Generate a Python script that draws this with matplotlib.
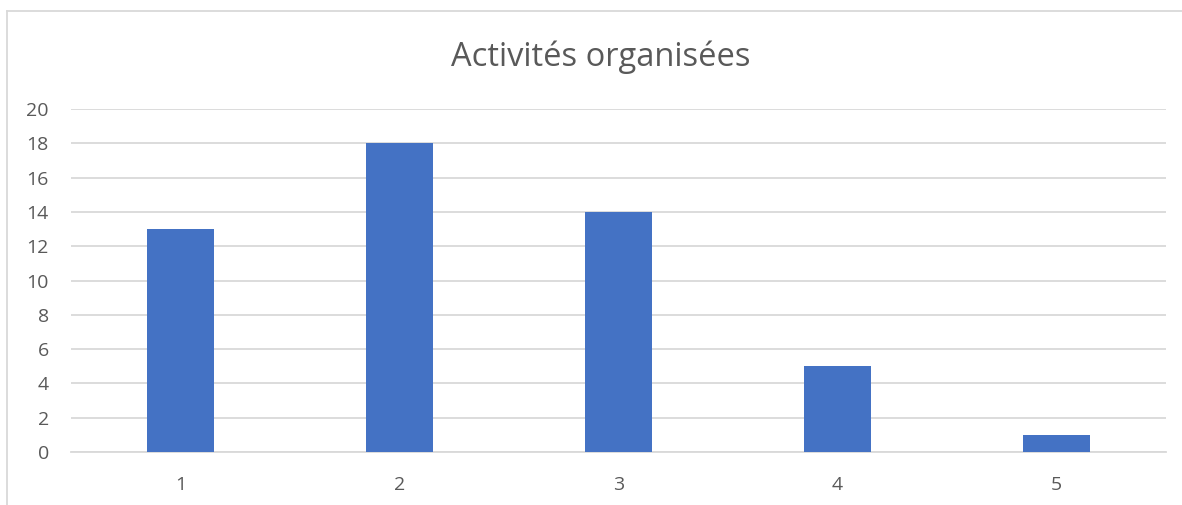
import matplotlib
matplotlib.use("Agg")
import matplotlib.pyplot as plt
from matplotlib.lines import Line2D

categories = ["1", "2", "3", "4", "5"]
values = [13, 18, 14, 5, 1]
yticks = [0, 2, 4, 6, 8, 10, 12, 14, 16, 18, 20]
title = "Activités organisées"

plt.rcParams['font.family'] = ['Open Sans', 'DejaVu Sans']

fig = plt.figure(figsize=(11.82, 5.05), dpi=100)
ax = fig.add_axes([71/1182, 1 - 452/505, (1166-71)/1182, (452-109)/505])

x = list(range(len(categories)))
ax.bar(x, values, width=0.31, color="#4472C4", zorder=3)
ax.set_xlim(-0.5, len(categories) - 0.5)
ax.set_ylim(0, 20)
ax.set_yticks(yticks)
ax.set_yticklabels([str(t) for t in yticks])
ax.set_xticks(x)
ax.set_xticklabels(categories)
ax.grid(axis="y", color="#d9d9d9", linewidth=1.3, zorder=0)
ax.set_axisbelow(True)
for s in ["top", "right", "left"]:
    ax.spines[s].set_visible(False)
ax.spines["bottom"].set_color("#d9d9d9")
ax.spines["bottom"].set_linewidth(1.3)
ax.tick_params(axis="both", length=0, colors="#595959", labelsize=14)
ax.tick_params(axis="y", pad=16)
ax.tick_params(axis="x", pad=17)

fig.text(601/1182, 1 - 57/505, title, ha="center", va="center", fontsize=23.5, color="#595959")

# chart frame (top and left edges)
fig.add_artist(Line2D([7/1182, 1], [1 - 11/505, 1 - 11/505], color="#d9d9d9", linewidth=1.3, transform=fig.transFigure))
fig.add_artist(Line2D([7/1182, 7/1182], [0, 1 - 11/505], color="#d9d9d9", linewidth=1.3, transform=fig.transFigure))

fig.savefig("out.png", dpi=100)
